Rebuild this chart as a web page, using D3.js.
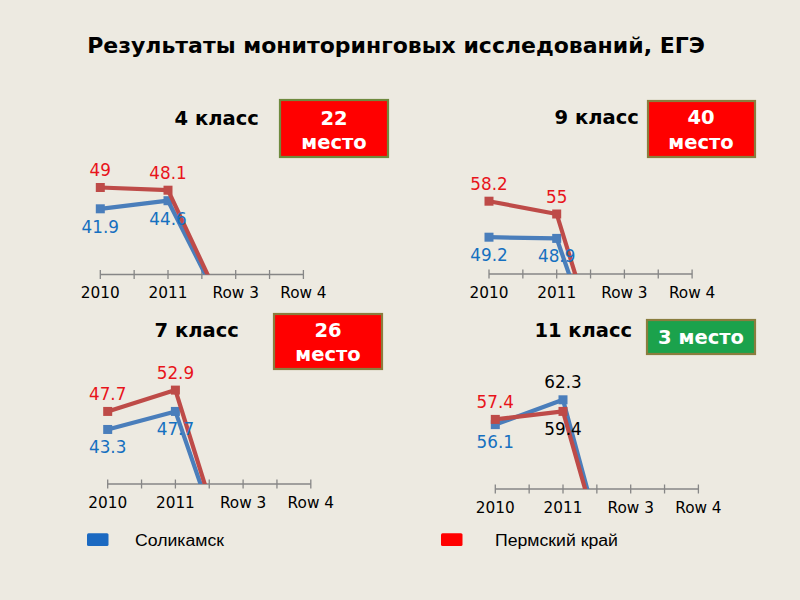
<!DOCTYPE html>
<html><head><meta charset="utf-8">
<script src="https://cdn.jsdelivr.net/npm/d3@7"></script>
<style>html,body{margin:0;padding:0;background:#EDEAE1;}svg{display:block;}</style>
</head><body>
<svg id="c" width="800" height="600"></svg>
<script>
// ---- data ----
const categories = ["2010", "2011", "Row 3", "Row 4"];
const seriesNames = ["Соликамск", "Пермский край"];
const soli4 = [41.9, 44.6, 0, 0];
const perm4 = [49, 48.1, 0, 0];
const soli9 = [49.2, 48.9, 0, 0];
const perm9 = [58.2, 55, 0, 0];
const soli7 = [43.3, 47.7, 0, 0];
const perm7 = [47.7, 52.9, 0, 0];
const soli11 = [56.1, 62.3, 0, 0];
const perm11 = [57.4, 59.4, 0, 0];
const panelTitles = ["4 класс", "9 класс", "7 класс", "11 класс"];
const placeLabels = [["22", "место"], ["40", "место"], ["26", "место"], ["3 место"]];
const mainTitle = "Результаты мониторинговых исследований, ЕГЭ";

// ---- layout / style ----
const C_BLUE_LINE = "#4A7EBB", C_RED_LINE = "#BE4B48";
const C_BLUE_TXT = "#1570C0", C_RED_TXT = "#E8141B";
const panels = [
  {soli: soli4, perm: perm4, yDom: [20, 60], x0: 100.3, axisY: 274.5, yTop: 154.5,
   title: [216.7, 118.3], box: [280, 100, 108, 57, "#FF0000", "#6F8A3E"], boxC: [334, [117.7, 141.7]],
   lab: {soli: ["below", "below"], perm: ["above", "above"]}, labCol: {soli: [C_BLUE_TXT, C_BLUE_TXT], perm: [C_RED_TXT, C_RED_TXT]}},
  {soli: soli9, perm: perm9, yDom: [40, 70], x0: 489, axisY: 274, yTop: 154,
   title: [596.7, 116.7], box: [648, 101, 107, 56, "#FF0000", "#8A7D3E"], boxC: [701, [116.7, 141.7]],
   lab: {soli: ["below", "below"], perm: ["above", "above"]}, labCol: {soli: [C_BLUE_TXT, C_BLUE_TXT], perm: [C_RED_TXT, C_RED_TXT]}},
  {soli: soli7, perm: perm7, yDom: [30, 60], x0: 107.7, axisY: 484, yTop: 361,
   title: [196.7, 330], box: [274, 314, 108, 55, "#FF0000", "#8A7D3E"], boxC: [328, [330, 354.3]],
   lab: {soli: ["below", "below"], perm: ["above", "above"]}, labCol: {soli: [C_BLUE_TXT, C_BLUE_TXT], perm: [C_RED_TXT, C_RED_TXT]}},
  {soli: soli11, perm: perm11, yDom: [40, 70], x0: 495.3, axisY: 489, yTop: 369,
   title: [583.3, 330], box: [647, 320, 108, 34, "#1BA24C", "#8A7D3E"], boxC: [701, [337.3]],
   lab: {soli: ["below", "above"], perm: ["above", "below"]}, labCol: {soli: [C_BLUE_TXT, "#000"], perm: [C_RED_TXT, "#000"]}}
];

const svg = d3.select("#c");
svg.append("rect").attr("width", 800).attr("height", 600).attr("fill", "#EDEAE1");

svg.append("text").attr("x", 396).attr("y", 53.3).attr("text-anchor", "middle")
  .attr("font-family", "DejaVu Sans").attr("font-weight", "bold").attr("font-size", 22)
  .attr("fill", "#000").text(mainTitle);

const defs = svg.append("defs");

panels.forEach((p, i) => {
  const g = svg.append("g");
  const x = d3.scalePoint().domain(categories).range([p.x0, p.x0 + 203.1]);
  const y = d3.scaleLinear().domain(p.yDom).range([p.axisY, p.yTop]);
  const step = x.step();

  // title
  g.append("text").attr("x", p.title[0]).attr("y", p.title[1]).attr("dy", "0.36em")
    .attr("text-anchor", "middle").attr("font-family", "DejaVu Sans").attr("font-weight", "bold")
    .attr("font-size", 19.5).attr("fill", "#000").text(panelTitles[i]);

  // place box
  const [bx, by, bw, bh, bf, bs] = p.box;
  g.append("rect").attr("x", bx).attr("y", by).attr("width", bw).attr("height", bh)
    .attr("fill", bf).attr("stroke", bs).attr("stroke-width", 2.2);
  placeLabels[i].forEach((t, j) => {
    g.append("text").attr("x", p.boxC[0]).attr("y", p.boxC[1][j]).attr("dy", "0.36em")
      .attr("text-anchor", "middle").attr("font-family", "DejaVu Sans").attr("font-weight", "bold")
      .attr("font-size", 19.5).attr("fill", "#fff").text(t);
  });

  // axis
  const tickPos = [];
  categories.forEach((c, k) => { tickPos.push(x(c)); if (k < categories.length - 1) tickPos.push(x(c) + step / 2); });
  g.append("line").attr("x1", x(categories[0])).attr("x2", x(categories[categories.length - 1]))
    .attr("y1", p.axisY).attr("y2", p.axisY).attr("stroke", "#868686").attr("stroke-width", 1.3);
  g.selectAll(".tk").data(tickPos).enter().append("line")
    .attr("x1", d => d).attr("x2", d => d).attr("y1", p.axisY - 4.5).attr("y2", p.axisY + 4.5)
    .attr("stroke", "#868686").attr("stroke-width", 1.3);
  g.selectAll(".tl").data(categories).enter().append("text")
    .attr("x", d => x(d)).attr("y", p.axisY + 23.8).attr("text-anchor", "middle")
    .attr("font-family", "DejaVu Sans").attr("font-size", 15.3).attr("fill", "#000").text(d => d);

  // clip
  const cid = "clip" + i;
  defs.append("clipPath").attr("id", cid).append("rect")
    .attr("x", 0).attr("y", 0).attr("width", 800).attr("height", p.axisY);

  const line = d3.line().x((d, k) => x(categories[k])).y(d => y(d));
  const series = [["soli", p.soli, C_BLUE_LINE], ["perm", p.perm, C_RED_LINE]];
  const lg = g.append("g").attr("clip-path", `url(#${cid})`);
  series.forEach(([key, vals, col]) => {
    lg.append("path").datum(vals).attr("d", line).attr("fill", "none")
      .attr("stroke", col).attr("stroke-width", 4.2).attr("stroke-linejoin", "round");
    lg.selectAll(".m" + key).data(vals.slice(0, 2)).enter().append("rect")
      .attr("x", (d, k) => x(categories[k]) - 4.5).attr("y", d => y(d) - 4.5)
      .attr("width", 9).attr("height", 9).attr("fill", col);
  });
  series.forEach(([key, vals]) => {
    g.selectAll(".l" + key).data(vals.slice(0, 2)).enter().append("text")
      .attr("x", (d, k) => x(categories[k])).attr("y", (d, k) => y(d) + (p.lab[key][k] === "above" ? -17.5 : 17.8))
      .attr("dy", "0.36em").attr("text-anchor", "middle")
      .attr("font-family", "DejaVu Sans").attr("font-size", 16.8)
      .attr("fill", (d, k) => p.labCol[key][k]).text(d => d);
  });
});

// legend
const legend = [
  {name: seriesNames[0], color: "#1B69C1", rx: 87, tx: 135, w: 89},
  {name: seriesNames[1], color: "#FF0000", rx: 441, tx: 495, w: 123}
];
legend.forEach(l => {
  svg.append("rect").attr("x", l.rx).attr("y", 533.3).attr("width", 21.5).attr("height", 12.7)
    .attr("rx", 1.5).attr("fill", l.color);
  svg.append("text").attr("x", l.tx).attr("y", 545.8).attr("font-family", "Liberation Sans, Arial, sans-serif")
    .attr("font-size", 16).attr("fill", "#000")
    .attr("textLength", l.w).attr("lengthAdjust", "spacingAndGlyphs").text(l.name);
});
</script>
</body></html>
